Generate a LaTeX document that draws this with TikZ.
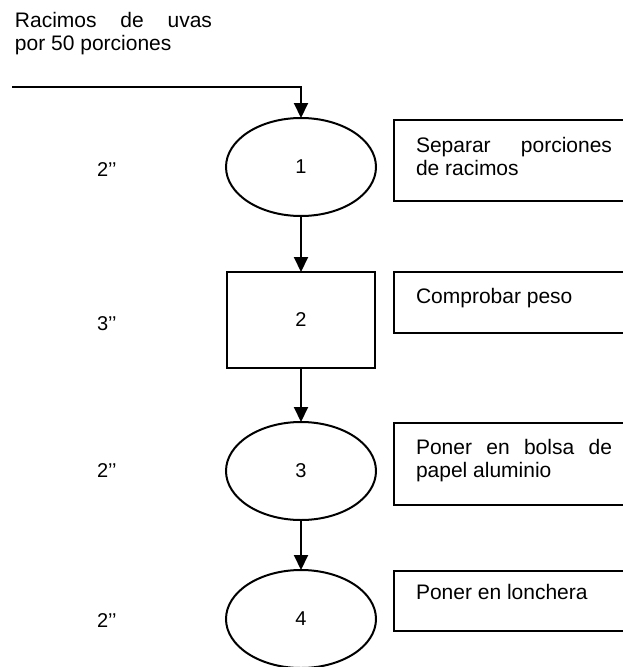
\documentclass[tikz,border=0pt]{standalone}
\usepackage{fontspec}
\setmainfont{Liberation Sans}
\usetikzlibrary{arrows.meta,shapes.geometric}
\begin{document}
\begin{tikzpicture}[x=1pt,y=-1pt,
  every node/.style={inner sep=0pt,outer sep=0pt},
  txt/.style={font=\fontsize{21pt}{23pt}\selectfont,anchor=base west,align=left},
  num/.style={font=\fontsize{20pt}{22pt}\selectfont},
  time/.style={font=\fontsize{20pt}{22pt}\selectfont,anchor=base west},
  oper/.style={draw,line width=2pt,ellipse,minimum width=150pt,minimum height=98pt,num},
  insp/.style={draw,line width=2pt,rectangle,minimum width=148pt,minimum height=96pt,num},
  descbox/.style={draw,line width=2pt,rectangle,anchor=north west,minimum width=240pt},
  flow/.style={line width=2pt,-{Triangle[length=15pt,width=14pt]}}
]
\useasboundingbox (0,0) rectangle (623,667);
\clip (0,0) rectangle (623,667);

% incoming material (multi-line nodes are placed by the baseline of their last line)
\node[txt] (mat) at (15,50) {\hbox to 197pt{Racimos\hfil de\hfil uvas}\\por 50 porciones};
\coordinate (in) at (12,87);

% process chart symbols
\node[oper] (e1) at (301,167) {1};
\node[insp] (r2) at (301,320) {2};
\node[oper] (e3) at (301,471) {3};
\node[oper] (e4) at (301,619) {4};

\draw[flow] (in) -| (e1.north);
\draw[flow] (e1.south) -- (r2.north);
\draw[flow] (r2.south) -- (e3.north);
\draw[flow] (e3.south) -- (e4.north);

% times
\node[time] (t1) at (97,176) {2’’};
\node[time] (t2) at (97,330) {3’’};
\node[time] (t3) at (97,477) {2’’};
\node[time] (t4) at (97,627) {2’’};

% descriptions
\node[descbox,minimum height=81pt] (b1) at (394,120) {};
\node[descbox,minimum height=61pt] (b2) at (394,272) {};
\node[descbox,minimum height=82pt] (b3) at (394,423) {};
\node[descbox,minimum height=60pt] (b4) at (394,571) {};

\node[txt] (d1) at (416,175) {\hbox to 196pt{Separar\hfil porciones}\\de racimos};
\node[txt] (d2) at (416,303) {Comprobar peso};
\node[txt] (d3) at (416,477) {\hbox to 196pt{Poner\hfil en\hfil bolsa\hfil de}\\papel aluminio};
\node[txt] (d4) at (416,599) {Poner en lonchera};
\end{tikzpicture}
\end{document}
